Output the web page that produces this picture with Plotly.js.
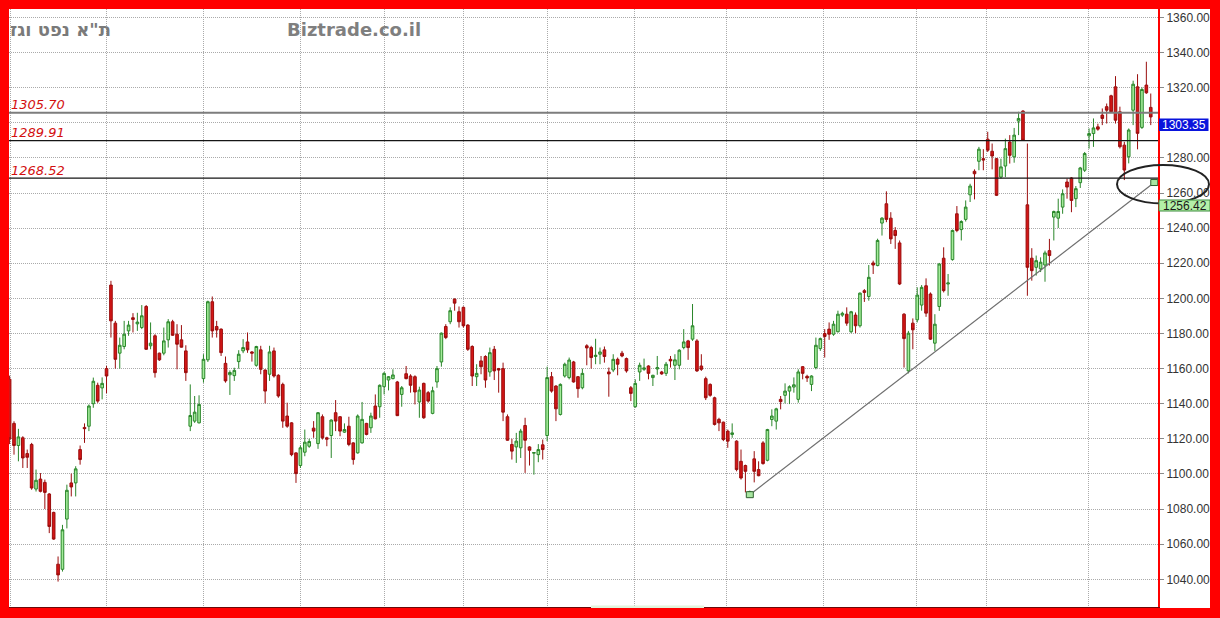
<!DOCTYPE html>
<html><head><meta charset="utf-8">
<script src="https://cdn.plot.ly/plotly-3.0.1.min.js"></script>
<style>
html,body{margin:0;padding:0;background:#ff0000;width:1220px;height:618px;overflow:hidden}
#chart{position:absolute;left:9px;top:9px;width:1201px;height:599px;background:#fff}
</style></head><body><div id="chart"></div>
<script>
// ---------------- data ----------------
const titleText = 'ת"א נפט וגז';
const watermarkText = 'Biztrade.co.il';

const openV = [
1154,1128.8,1116.2,1120.6,1111.6,1116.8,1091.4,1097.1,1095.2,1088.6,
1078.1,1048.6,1045.7,1074.3,1094.9,1094.9,1113.9,1126.5,1127.2,1140,
1150.5,1149,1160,1207.6,1185.9,1168.8,1172.6,1181.5,1189,1185.5,
1183.4,1195.4,1173,1178.7,1168.8,1168.8,1176.4,1186.7,1179.6,1176.4,
1170.1,1127.2,1130.1,1129.1,1154.3,1165,1198.1,1184,1182.5,1163,
1156.5,1156,1164,1170.1,1175.2,1169.5,1161.9,1170.7,1159.2,1156.8,
1170.1,1156.2,1151,1133,1129.1,1112,1104.8,1112.4,1115.8,1126.1,
1117.3,1132.6,1120.6,1121.9,1134.9,1132.6,1123.8,1127.2,1117.7,1112,
1117.7,1128.8,1126.3,1138.7,1138.3,1149.7,1153.5,1154.3,1152.4,1145.3,
1157.1,1155.8,1155.4,1141,1151.6,1146.3,1134.5,1152.4,1163.8,1184,
1186.7,1199.6,1192.4,1194.9,1184.8,1172.6,1155.4,1164.4,1166.9,1158.1,
1171,1160,1160,1132.6,1116.8,1115.4,1114.9,1127.6,1115.4,1111.8,
1111,1116.6,1121.9,1155.4,1150.1,1133.9,1155.8,1154.9,1163.8,1155.4,
1149.1,1173,1172,1166.9,1168.2,1170.7,1158.1,1159.2,1165.3,1168.8,
1165.7,1149.1,1138.3,1158.1,1159.6,1161.5,1154.9,1159.8,1158.1,1157.3,
1165.3,1161.9,1161.9,1172,1175.8,1176.8,1175.8,1161.5,1154.3,1151,
1143.4,1131.1,1129.5,1124.4,1122.5,1118.7,1107.2,1104.8,1087.2,1108.6,
1102.5,1117.7,1107.8,1131,1130.1,1142.5,1144.8,1147.2,1149.5,1142.5,
1161.1,1155.6,1151,1160.6,1171.4,1180,1182.5,1179.6,1181,1190.5,
1191,1181,1190.5,1184.4,1204.4,1201.1,1220.2,1218.7,1242.9,1253.9,
1245.7,1238.7,1231.6,1191,1158.7,1185.9,1187.8,1196.2,1207.2,1202.5,
1174.5,1195.4,1222.9,1208.2,1222.1,1248.2,1239.2,1245,1259,1272.4,
1278.1,1279.6,1290.7,1283.8,1279.6,1269.1,1275.4,1289.1,1280.6,1301,
1306.7,1253.3,1222.9,1217.7,1216.8,1219,1227.2,1246.3,1245.7,1252,
1266.3,1268.6,1256.8,1265.9,1273,1292.6,1293.9,1297.7,1304.4,1309.2,
1315.4,1320.5,1306.3,1287.3,1280.7,1307.2,1320.5,1297.4,1321.5,1308.8];

const highV = [
1156,1130,1125.7,1121.5,1113.9,1117.7,1102.5,1100.5,1096.8,1089.1,
1078.5,1053,1071,1093.9,1100.2,1104.4,1116.2,1128.8,1139.6,1154.9,
1152,1155,1161.5,1210,1187.2,1177.7,1187.2,1187.2,1191.6,1191.8,
1196.2,1196.2,1186.3,1179.6,1169.1,1183.4,1188.2,1187.8,1185.3,1184.8,
1173.3,1151,1144.4,1144.8,1168.2,1198.7,1201.1,1187.2,1182.9,1166.9,
1159,1160.5,1170.5,1176.8,1180.6,1170,1173,1173,1159.6,1173,
1172,1156.8,1152,1140.6,1129.5,1112.4,1116.2,1125.3,1120,1130.1,
1135.2,1133.9,1121.2,1131.1,1142.1,1133,1128.8,1132.6,1118.1,1133.9,
1141,1129.1,1134.9,1145.3,1151,1158.1,1155.8,1159.6,1153,1150.1,
1161.5,1156.8,1156.2,1149.7,1152,1147.2,1149.7,1161.5,1180.6,1185.3,
1194.9,1200,1195.4,1195.4,1185.3,1173.3,1162.5,1167.2,1167.6,1172,
1172.9,1160.4,1163.4,1133.9,1120,1123.4,1125.7,1132,1115.8,1112.4,
1117,1119.6,1161.1,1158.1,1150.5,1151.6,1163.4,1166.3,1164.4,1155.8,
1160,1173.9,1173,1177,1172,1172.6,1160.6,1168.2,1166.3,1170.1,
1166.3,1150.1,1153.9,1163.4,1165.7,1161.9,1156.5,1167.2,1158.7,1163.8,
1167.2,1168.2,1171,1182.5,1176.4,1196.8,1176.8,1168.2,1155.4,1151.6,
1144,1132,1129.8,1125.3,1128.8,1119.2,1113.9,1105.3,1090.5,1113,
1107.2,1118.7,1125.7,1136.8,1137.7,1144.4,1151.6,1150.5,1155,1159.6,
1161.5,1156.5,1156.2,1177.7,1177.7,1182.5,1186.3,1187.2,1193,1192.4,
1194.9,1192.9,1192,1203.4,1205.3,1219,1221.5,1234,1246.3,1261,
1249.1,1240.6,1233,1191.6,1181.5,1188.6,1206.3,1207.6,1211.4,1203.4,
1191,1220.2,1229.1,1213.9,1239.2,1252.6,1244.5,1255.8,1265.3,1273.5,
1286.3,1285,1294.9,1288.2,1280,1279.6,1291,1293,1297.1,1306.3,
1307.2,1288.2,1228.6,1224.4,1223.4,1227.2,1233.9,1250,1256.8,1262.1,
1268.2,1269.1,1264,1274.9,1283.4,1296.8,1302.5,1299.5,1308.2,1311,
1316,1326.6,1309.2,1289.2,1296.8,1324,1327.7,1320.2,1334.8,1316.7];

const lowV = [
1117,1111,1107.2,1103.4,1103.4,1091,1090,1089.5,1080,1066.3,
1062.5,1038.7,1044.4,1069,1087.2,1087.2,1105.3,1117.7,1124.4,1137.7,
1140.5,1142.5,1146,1177.7,1160,1160,1171,1178.7,1180.6,1181.5,
1182.5,1170.7,1171,1154.9,1164.4,1167.6,1172,1178.7,1159.6,1172,
1153,1124.4,1129.1,1128.8,1152,1163.8,1177.7,1177.7,1167.2,1152,
1145,1153,1160,1168.8,1169,1164,1161.1,1156.8,1140.2,1153,
1154.9,1143.4,1126.3,1126.3,1110.1,1094.9,1103.4,1110.1,1114.9,1120.6,
1114.3,1119.6,1115.8,1109.1,1124.4,1121.5,1123.4,1115.8,1105.3,1111.6,
1117.3,1122,1123.4,1131.1,1132,1145.3,1147.6,1153.9,1133,1138.3,
1153.9,1146.3,1139.6,1132,1131.4,1140.6,1134,1149.1,1161.1,1176.8,
1185.3,1193,1183.4,1183.4,1170.1,1150.1,1150.1,1156.8,1149.1,1155.4,
1153.5,1146.3,1130.1,1119,1108.2,1106.3,1109.1,1100.6,1104.8,1099.6,
1106.7,1108.2,1118.7,1146.3,1130.1,1133.3,1154.9,1153.9,1152,1143.4,
1148.2,1161.9,1160,1162.5,1162.5,1163.4,1144,1158,1156.2,1166.5,
1157.7,1141.5,1137.7,1153,1158.7,1153.9,1150.1,1156.5,1156.5,1155.8,
1160.6,1153.5,1159.6,1171,1165,1175.8,1158.1,1158.7,1142.1,1144,
1127.6,1124.4,1118.7,1114.9,1120.6,1101.5,1096.8,1089.5,1086.8,1095.2,
1098.7,1105.3,1107.2,1127.2,1125.3,1136.8,1140.2,1139.8,1146.3,1140.6,
1153.9,1152.4,1147.2,1159.6,1170.1,1166.3,1176.4,1178.7,1180.6,1189.5,
1184.4,1180.2,1180.2,1183.4,1198,1198.7,1213.9,1218.3,1235.8,1243.4,
1231,1228.2,1207.6,1160.6,1157.3,1171,1186.3,1193,1189.5,1176.4,
1170.1,1192.9,1203.4,1201.5,1221.5,1237.7,1233,1243.8,1254.9,1256.4,
1273,1273,1283.4,1273.5,1258.3,1268.2,1269.1,1276.8,1277.3,1293,
1290,1201.5,1210.1,1213,1215,1209.5,1218.7,1233,1240.1,1248.2,
1256.8,1249.1,1252,1262.9,1272,1285.3,1286.3,1295.5,1298.7,1299.6,
1305.8,1299.6,1285.4,1267.4,1276.9,1298.7,1284.9,1296.5,1316.5,1298.7];

const closeV = [
1120,1116.2,1121.1,1109.1,1109.5,1092,1096.4,1090.1,1089.5,1070.1,
1062.9,1042.5,1068.2,1090.7,1092.6,1102.9,1108.2,1125.8,1138.7,1152.8,
1141.5,1151.6,1155.8,1187.2,1165.3,1173.3,1179.6,1184.8,1188,1186.5,
1190.1,1171,1174.5,1157.7,1165,1175.8,1186.7,1179,1173.9,1172.2,
1157.7,1133.3,1135.2,1139.6,1165.3,1198.1,1181.5,1182,1169.1,1153,
1157.8,1159,1168.2,1172,1170.7,1168.8,1172.6,1159.6,1147.2,1169.5,
1155.8,1144.4,1130.1,1127.2,1111,1100.2,1114.9,1118.1,1118.5,1124.4,
1134.9,1120.6,1119.8,1130.7,1130.1,1124.4,1125.3,1116.8,1108.2,1133,
1131.1,1122.5,1133,1131.4,1150.5,1157.3,1155.4,1156.4,1133.2,1149.1,
1154.3,1150.5,1146.7,1147.8,1132,1141.5,1147.4,1160,1180.2,1177.7,
1193,1197.3,1186.7,1184.4,1171,1155.8,1157.3,1161.1,1153.5,1169.1,
1158.7,1159.2,1135.2,1119.2,1113,1118.7,1124.4,1119.2,1113.5,1112.2,
1113.9,1113.9,1154.9,1147.2,1137.1,1151,1162.5,1164.9,1152.4,1148.6,
1157.3,1171.8,1166.3,1167.6,1169.5,1166.9,1157,1165.3,1162.5,1167.2,
1158.7,1145.9,1151.6,1161.9,1160.4,1157.3,1156.2,1160.6,1157,1162.5,
1164.4,1165,1170.5,1175.2,1172,1184.4,1158.7,1159.6,1143.4,1144.8,
1128.2,1129.1,1119.6,1118.7,1123.4,1102.5,1097.7,1101.5,1090,1101.5,
1099,1105.9,1125.3,1133,1137.1,1141.2,1147.2,1149.7,1150.8,1158.1,
1157.3,1154.7,1155.8,1173.3,1177.1,1178.3,1179.6,1185.3,1191,1191.5,
1185.9,1192.4,1184.4,1203,1203.4,1212,1219,1233,1245.7,1245,
1233.9,1235.8,1208.2,1177.1,1180.2,1182.1,1201.9,1206.3,1191.6,1176.8,
1185.3,1219.6,1204.4,1208.8,1238.7,1238.7,1243.8,1252,1264,1271,
1285,1278.8,1284.4,1281.1,1258.7,1274.9,1285.3,1281.5,1293,1302.5,
1290.1,1217.7,1215.8,1221.5,1220.6,1225.9,1224.4,1249.5,1249.5,1259.6,
1263.4,1255.8,1262.5,1274.3,1282.5,1293.9,1297.1,1296.4,1302.5,1307.2,
1306.3,1301.5,1286.4,1273.1,1295.9,1322,1294,1319,1317.1,1303.35];

const levels = [1305.70, 1289.91, 1268.52];
const levelLabels = ['1305.70', '1289.91', '1268.52'];
const yTickVals = [1040,1060,1080,1100,1120,1140,1160,1180,1200,1220,1240,1260,1280,1300,1320,1340,1360];
// the 1300 tick label is hidden behind the last-price box in the reference
const yTickText = ['1040.00','1060.00','1080.00','1100.00','1120.00','1140.00','1160.00','1180.00','1200.00','1220.00','1240.00','1260.00','1280.00','','1320.00','1340.00','1360.00'];
const monthStartIdx = [0.1, 22.0, 43.9, 66.1, 85.1, 103.1, 122.0, 141.9, 162.8, 184.8, 205.9, 221.8, 244.8];
const trendStart = {idx: 168.0, value: 1088.2};
const trendEnd = {idx: 259.8, value: 1266.0};
const lastPriceLabel = '1303.35';
const trendPriceLabel = '1256.42';

// ---------------- layout helpers ----------------
const W = 1201, H = 599;
const PL = 0, PR = 52, PT = 0, PB = 1;
const plotW = W - PL - PR, plotH = H - PT - PB;
// convert page pixel -> paper (div is at page x=9,y=9)
const px = xr => (xr - 9 - PL) / plotW;
const py = yr => 1 - (yr - 9 - PT) / plotH;

const xIdx = openV.map((_, k) => k);

const trace = {
  type: 'candlestick',
  x: xIdx, open: openV, high: highV, low: lowV, close: closeV,
  increasing: {line: {color: '#2a862a', width: 1}, fillcolor: '#a3ec9a'},
  decreasing: {line: {color: '#9a0d0d', width: 1}, fillcolor: '#d41616'},
  whiskerwidth: 0,
  hoverinfo: 'skip',
  showlegend: false
};

const shapes = [];
const levelColors = ['#7d7d7d', '#151515', '#151515'];
const levelWidths = [2, 1.3, 1.3];
levels.forEach((v, i) => {
  shapes.push({type: 'line', xref: 'paper', yref: 'y', x0: 0, x1: 1, y0: v, y1: v,
    line: {color: levelColors[i], width: levelWidths[i]}, layer: 'above'});
});
shapes.push({type: 'line', xref: 'x', yref: 'y', x0: trendStart.idx, y0: trendStart.value,
  x1: trendEnd.idx, y1: trendEnd.value, line: {color: '#6e6e6e', width: 1.2}, layer: 'above'});
[trendStart, trendEnd].forEach(p => {
  shapes.push({type: 'rect', xref: 'x', yref: 'y', xsizemode: 'pixel', ysizemode: 'pixel',
    xanchor: p.idx, yanchor: p.value, x0: -3.5, x1: 3.5, y0: -3, y1: 3,
    fillcolor: '#a8e6a0', line: {color: '#2f5f2f', width: 1}, layer: 'above'});
});
// ellipse highlighting the end of the trend line
shapes.push({type: 'circle', xref: 'paper', yref: 'paper',
  x0: px(1117), x1: px(1209), y0: py(203.5), y1: py(165),
  line: {color: '#222', width: 2}, layer: 'above'});
// value boxes on the axis
shapes.push({type: 'rect', xref: 'paper', yref: 'paper',
  x0: px(1159), x1: px(1208.5), y0: py(131), y1: py(118.5),
  fillcolor: '#0a14dc', line: {width: 0}, layer: 'above'});
shapes.push({type: 'rect', xref: 'paper', yref: 'paper',
  x0: px(1159), x1: px(1210), y0: py(211), y1: py(200),
  fillcolor: '#b4f0a8', line: {color: '#3c8c3c', width: 1}, layer: 'above'});
// pale strip on the bottom axis
shapes.push({type: 'rect', xref: 'paper', yref: 'paper',
  x0: px(591), x1: px(704), y0: py(608.5), y1: py(605.5),
  fillcolor: '#e2f4dd', line: {width: 0}, layer: 'above'});

const annotations = [];
levels.forEach((v, i) => {
  annotations.push({xref: 'paper', yref: 'y', x: 0, y: v, xanchor: 'left', yanchor: 'middle',
    yshift: 8, showarrow: false, text: '<i>' + levelLabels[i] + '</i>',
    font: {family: 'DejaVu Sans, Verdana, sans-serif', size: 13, color: '#d30f0f'}});
});
annotations.push({xref: 'paper', yref: 'paper', x: px(113), y: py(30), xanchor: 'right', yanchor: 'middle',
  showarrow: false, text: '<b>' + titleText + '</b>',
  font: {family: 'DejaVu Sans, sans-serif', size: 18, color: '#7a7a7a'}});
annotations.push({xref: 'paper', yref: 'paper', x: px(353.5), y: py(30), xanchor: 'center', yanchor: 'middle',
  showarrow: false, text: '<b>' + watermarkText + '</b>',
  font: {family: 'DejaVu Sans, sans-serif', size: 18, color: '#7f7f7f'}});
annotations.push({xref: 'paper', yref: 'paper', x: px(1184), y: py(124.8), xanchor: 'center', yanchor: 'middle',
  showarrow: false, text: lastPriceLabel,
  font: {family: 'Liberation Sans, Arial, sans-serif', size: 12, color: '#ffffff'}});
annotations.push({xref: 'paper', yref: 'paper', x: px(1184.5), y: py(205.5), xanchor: 'center', yanchor: 'middle',
  showarrow: false, text: trendPriceLabel,
  font: {family: 'Liberation Sans, Arial, sans-serif', size: 12, color: '#1a1a1a'}});

const layout = {
  width: W, height: H,
  margin: {l: PL, r: PR, t: PT, b: PB, pad: 0},
  paper_bgcolor: '#ffffff', plot_bgcolor: '#ffffff',
  showlegend: false,
  boxgap: 0.15,
  xaxis: {
    range: [(9 - 9.6) / 4.406, (1158 - 9.6) / 4.406],
    tickmode: 'array', tickvals: monthStartIdx, showticklabels: false, ticks: '',
    showgrid: true, gridcolor: '#aaaaaa', griddash: '1px,1px', gridwidth: 1,
    showline: true, linecolor: '#6b0a0a', linewidth: 2, mirror: false,
    zeroline: false, rangeslider: {visible: false}, fixedrange: true, automargin: false
  },
  yaxis: {
    side: 'right',
    range: [1024.22, 1364.84],
    tickmode: 'array', tickvals: yTickVals, ticktext: yTickText,
    ticks: 'outside', ticklen: 4, tickwidth: 1, tickcolor: '#8a8a8a',
    tickfont: {family: 'Liberation Sans, Arial, sans-serif', size: 12, color: '#333333'},
    showgrid: true, gridcolor: '#aaaaaa', griddash: '1px,1px', gridwidth: 1,
    showline: true, linecolor: '#ff0000', linewidth: 2,
    zeroline: false, fixedrange: true, automargin: false
  },
  shapes: shapes,
  annotations: annotations
};

Plotly.newPlot('chart', [trace], layout, {displayModeBar: false, staticPlot: true});
</script></body></html>
